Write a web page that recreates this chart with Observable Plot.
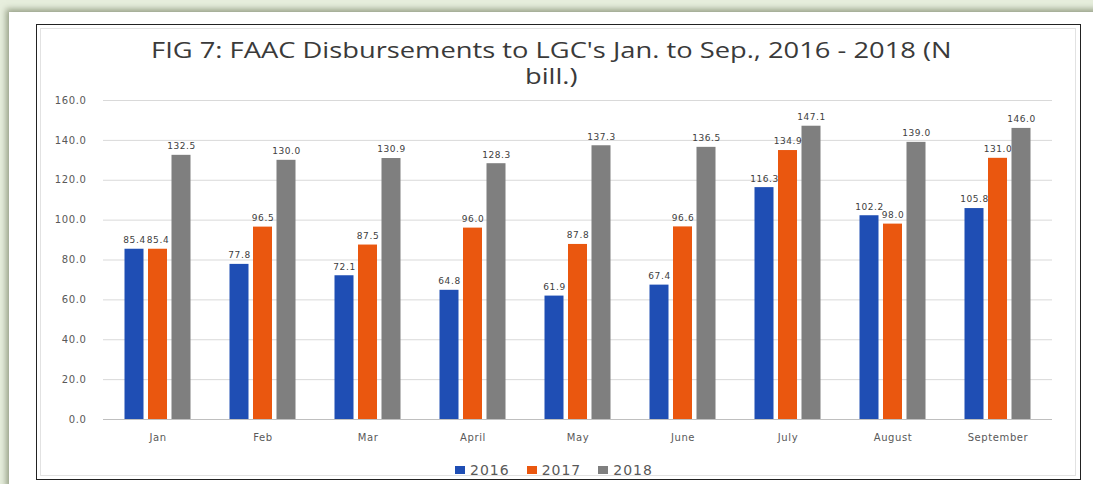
<!DOCTYPE html>
<html>
<head>
<meta charset="utf-8">
<script src="https://cdn.jsdelivr.net/npm/d3@7"></script>
<script src="https://cdn.jsdelivr.net/npm/@observablehq/plot@0.6"></script>
<style>
  html, body { margin: 0; padding: 0; }
  body { width: 1093px; height: 484px; background: #e7eedd; position: relative; overflow: hidden; font-family: "DejaVu Sans", sans-serif; }
  #card { position: absolute; left: 9px; top: 12px; width: 1100px; height: 480px; background: #fff;
          box-shadow: -3px -3px 6px rgba(90,100,70,0.55); }
  #frame { position: absolute; left: 36px; top: 24px; width: 1043px; height: 454px; border: 1.5px solid #222; background: #fff; }
  #inner { position: absolute; left: 3px; top: 3px; right: 4px; bottom: 3px; border: 1px solid #e2e2e2; }
  #title { position: absolute; left: 36px; width: 1030px; top: 37px; text-align: center;
           font-family: "Open Sans", sans-serif; font-size: 21px; line-height: 26px; color: #3a3a3a;
           transform: scaleX(1.3); transform-origin: 514px 0; }
  #chart { position: absolute; left: 36px; top: 85px; }
  #chart svg text { letter-spacing: 0.6px; }
  #legend { position: absolute; left: 455px; top: 462px; display: flex; align-items: center;
            font-family: "DejaVu Sans", sans-serif; font-size: 14px; letter-spacing: 1px; color: #595959; }
  .sw { width: 10px; height: 8px; margin-right: 5px; }
  .item { display: flex; align-items: center; margin-right: 17px; }
</style>
</head>
<body>
<div id="card"></div>
<div id="frame"><div id="inner"></div></div>
<div id="title">FIG 7: FAAC Disbursements to LGC's Jan. to Sep., 2016 - 2018 (N<br>bill.)</div>
<div id="chart"></div>
<div id="legend"></div>
<script>
const months = ["Jan","Feb","Mar","April","May","June","July","August","September"];
const years = ["2016","2017","2018"];
const v2016 = [85.4, 77.8, 72.1, 64.8, 61.9, 67.4, 116.3, 102.2, 105.8];
const v2017 = [85.4, 96.5, 87.5, 96.0, 87.8, 96.6, 134.9, 98.0, 131.0];
const v2018 = [132.5, 130.0, 130.9, 128.3, 137.3, 136.5, 147.1, 139.0, 146.0];
const yTicks = [0, 20, 40, 60, 80, 100, 120, 140, 160];
const colors = ["#1f4eb4", "#ea570f", "#7f7f7f"];

const series = [v2016, v2017, v2018];
const offsets = [-23.5, 0, 23.5];

const marks = [
  Plot.gridY(yTicks, {stroke: "#d9d9d9", strokeOpacity: 1}),
  Plot.ruleY([0], {stroke: "#bfbfbf"})
];
series.forEach((vals, i) => {
  const data = months.map((m, j) => ({month: m, value: vals[j], year: years[i]}));
  marks.push(Plot.barY(data, {x: "month", y: "value", fill: colors[i], dx: offsets[i]}));
  marks.push(Plot.text(data, {x: "month", y: "value", text: d => d.value.toFixed(1), dx: offsets[i], dy: -9,
    fill: "#404040", fontSize: 9, fontFamily: "DejaVu Sans"}));
});

const chart = Plot.plot({
  width: 1045,
  height: 370,
  marginLeft: 67,
  marginRight: 29,
  marginTop: 15,
  marginBottom: 36,
  style: {fontFamily: "DejaVu Sans", fontSize: "10px", color: "#595959", background: "transparent"},
  x: {domain: months, paddingInner: 0.82, paddingOuter: 0.41, label: null, tickSize: 0, tickPadding: 14},
  y: {domain: [0, 160], ticks: yTicks, tickFormat: d => d.toFixed(1), label: null, tickSize: 0, tickPadding: 17},
  marks
});
document.getElementById("chart").appendChild(chart);

const legend = document.getElementById("legend");
years.forEach((y, i) => {
  const it = document.createElement("div");
  it.className = "item";
  const sw = document.createElement("div");
  sw.className = "sw";
  sw.style.background = colors[i];
  const t = document.createElement("span");
  t.textContent = y;
  it.appendChild(sw); it.appendChild(t);
  legend.appendChild(it);
});
</script>
</body>
</html>
